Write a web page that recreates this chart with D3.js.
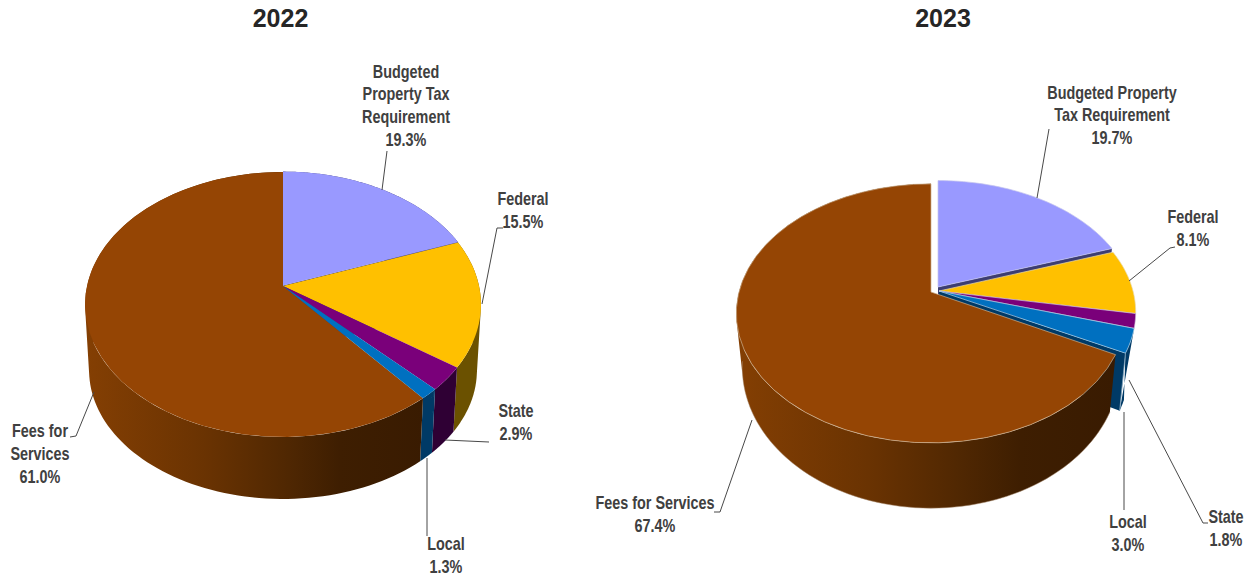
<!DOCTYPE html>
<html>
<head>
<meta charset="utf-8">
<script src="https://cdn.jsdelivr.net/npm/d3@7"></script>
<style>
html,body{margin:0;padding:0;background:#fff}
svg{display:block}
text{font-family:"Liberation Sans",Arial,sans-serif;font-weight:bold}
</style>
</head>
<body>
<div id="chart"></div>
<script>
const categories = ["Budgeted Property Tax Requirement","Federal","State","Local","Fees for Services"];
const values2022 = [19.3,15.5,2.9,1.3,61.0];
const values2023 = [19.7,8.1,1.8,3.0,67.4];
const labelLines2022 = [["Budgeted","Property Tax","Requirement"],["Federal"],["State"],["Local"],["Fees for","Services"]];
const labelLines2023 = [["Budgeted Property","Tax Requirement"],["Federal"],["State"],["Local"],["Fees for Services"]];
const topColors  = ["#9999ff","#ffc000","#7a007a","#0070c0","#954504"];
const sideColors = ["#3d3d72","#6b5100","#2f0034","#003a66","url(#SIDE)"];
const edgeColors2023 = ["#c4c4ee","#e6d9a8","#cfc0d8","#a9cbe2","#cdb08f"];

const W = 1257, H = 582;
const svg = d3.select("#chart").append("svg").attr("width",W).attr("height",H).attr("viewBox",[0,0,W,H]);
const defs = svg.append("defs");
const fmt = v => v.toFixed(1)+"%";

const layouts = [
 {
  id:"a", title:"2022", titleX:280.5, values:values2022, lines:labelLines2022,
  p:.1396, top:{R:196,K:129.9}, bottom:{R:192,K:126,dy:66.5},
  apex:[[283,285.6],[283,286],[283,286],[283,286],[283,286]],
  rs:[1,1,1,1,1], ks:[1,1,1,1,1],
  radial:[0], sideless:[], triangle:[], edge:null, wallEdge:null,
  grad:[85,425],
  labelAt:[[406,71],[523,198.5],[516,410.5],[446,543.5],[40,430.5]],
  leaders:[[[382,190],[387,151]],
           [[482,304],[497,228],[503,228]],
           [[445,440],[489,442]],
           [[427,458],[427,536]],
           [[94,392],[76,436],[70,437]]]
 },
 {
  id:"b", title:"2023", titleX:943, values:values2023, lines:labelLines2023,
  p:.165, top:{R:194,K:125}, bottom:{R:188,K:136,dy:52},
  apex:[[938,287],[939,291],[939,291],[939,291],[931,292]],
  rs:[1,1,1,1,.99], ks:[.992,1,1,1,1.008],
  radial:[0,3], sideless:[0,1,2], triangle:[3], edge:edgeColors2023, wallEdge:"#a98a6e",
  grad:[735,1115],
  labelAt:[[1112,92],[1193,216.5],[1226,516.5],[1128,521.5],[655,502.5]],
  leaders:[[[1037,198],[1049,129]],
           [[1129,281],[1170,248],[1175,247]],
           [[1129,380],[1203,523],[1208,523]],
           [[1124,412],[1124,510]],
           [[752,420],[720,512],[714,512]]]
 }
];

const line = d3.line();
layouts.forEach(L=>{
  const g = svg.append("g");
  const gradId = "side"+L.id;
  const grad = defs.append("linearGradient").attr("id",gradId).attr("gradientUnits","userSpaceOnUse")
     .attr("x1",L.grad[0]).attr("x2",L.grad[1]).attr("y1",0).attr("y2",0);
  [[0,"#843f03"],[.35,"#6a3302"],[.6,"#4f2702"],[.75,"#3e1e01"],[1,"#391b01"]]
     .forEach(s=>grad.append("stop").attr("offset",s[0]).attr("stop-color",s[1]));

  const arcs = d3.pie().sort(null).value(d=>d)(L.values);
  const rim = (i,disc,t)=>{
    const s=Math.sin(t), c=Math.cos(t), w=1+L.p*c;
    return [L.apex[i][0]+disc.R*L.rs[i]*s/w, L.apex[i][1]+(disc.dy||0)-disc.K*L.ks[i]*c/w];
  };
  const span = (a,n=40) => d3.range(0,n+1).map(k=>a.startAngle+(a.endAngle-a.startAngle)*k/n);
  const topPath = (a,i)=>line([L.apex[i],...span(a).map(t=>rim(i,L.top,t))])+"Z";
  const sidePath = (a,i)=>{
    if(L.triangle.includes(i)){
      const lowSpan=span({startAngle:a.endAngle-(a.endAngle-a.startAngle)*.4,endAngle:a.endAngle},10);
      return line([...span(a).map(t=>rim(i,L.top,t)),...lowSpan.map(t=>rim(i,L.bottom,t))])+"Z";
    }
    const ts=span(a,120);
    let out="";
    for(let k=0;k<ts.length-1;k++){
      let q=[rim(i,L.top,ts[k]),rim(i,L.top,ts[k+1]),rim(i,L.bottom,ts[k+1]),rim(i,L.bottom,ts[k])];
      if(d3.polygonArea(q)<0) q=q.reverse();
      out+=line(q)+"Z";
    }
    return out;
  };
  const radialPath = (a,i)=>{
    const ap=L.apex[i];
    return line([ap,rim(i,L.top,a.endAngle),rim(i,L.bottom,a.endAngle),[ap[0],ap[1]+L.bottom.dy]])+"Z";
  };
  const fillSide = i => sideColors[i]==="url(#SIDE)" ? `url(#${gradId})` : sideColors[i];

  g.selectAll("path.radial").data(arcs.filter(a=>L.radial.includes(a.index))).join("path")
    .attr("class","radial").attr("d",a=>radialPath(a,a.index)).attr("fill",a=>sideColors[a.index]);
  g.selectAll("path.side").data(arcs.filter(a=>!L.sideless.includes(a.index))).join("path")
    .attr("class","side").attr("d",a=>sidePath(a,a.index)).attr("fill",a=>fillSide(a.index));
  g.selectAll("path.corner").data(arcs.filter(a=>L.triangle.includes(a.index))).join("path")
    .attr("class","corner").attr("d",a=>line([rim(a.index,L.top,a.endAngle),rim(a.index,L.bottom,a.endAngle)]))
    .attr("fill","none").attr("stroke","#7fa3bd").attr("stroke-width",.8);
  if(L.wallEdge){
    const fees=arcs[4];
    g.append("path").attr("d",line(span(fees,80).map(t=>rim(4,L.bottom,t)).filter(p=>p[1]>L.apex[4][1]+L.bottom.dy+10)))
      .attr("fill","none").attr("stroke",L.wallEdge).attr("stroke-width",.5);
  }
  const order = [4,0,1,2,3];
  g.selectAll("path.top").data(order.map(i=>arcs[i])).join("path")
    .attr("class","top").attr("d",a=>topPath(a,a.index)).attr("fill",a=>topColors[a.index])
    .attr("stroke",a=>L.edge?L.edge[a.index]:"none").attr("stroke-width",L.edge?.7:0);

  g.selectAll("path.leader").data(L.leaders).join("path").attr("class","leader")
    .attr("d",d=>line(d)).attr("fill","none").attr("stroke","#484848").attr("stroke-width",1);

  arcs.forEach(a=>{
    const i=a.index, [x,y0]=L.labelAt[i];
    const rows=[...L.lines[i],fmt(L.values[i])];
    const pitch = 22.8;
    rows.forEach((r,k)=>{
      g.append("text").attr("transform",`translate(${x},${y0+k*pitch+6.5}) scale(.8,1)`)
       .attr("text-anchor","middle").attr("font-size",18).attr("fill","#404040").text(r);
    });
  });

  g.append("text").attr("x",L.titleX).attr("y",27).attr("text-anchor","middle")
    .attr("font-size",25).attr("fill","#262626").text(L.title);
});
</script>
</body>
</html>
